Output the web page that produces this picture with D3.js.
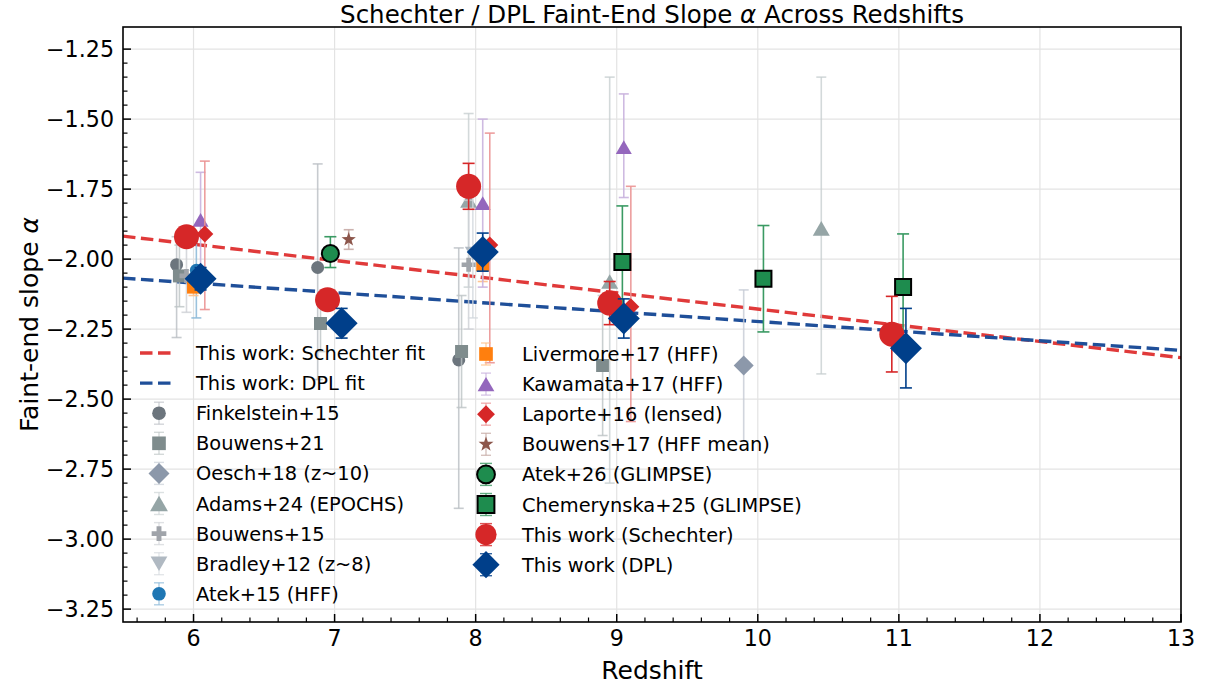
<!DOCTYPE html>
<html><head><meta charset="utf-8">
<script src="https://cdn.jsdelivr.net/npm/d3@7"></script>
<style>body{margin:0;background:#fff} svg{font-family:"DejaVu Sans",sans-serif}</style>
</head><body><svg id="c" width="1206" height="687"></svg>
<script>
// ---------- data ----------
const xTicks=[6,7,8,9,10,11,12,13];
const yTicks=[-1.25,-1.5,-1.75,-2.0,-2.25,-2.5,-2.75,-3.0,-3.25];
const fitZ=[5.5,13];
const schechterFit=[-1.918,-2.352];
const dplFit=[-2.068,-2.326];

const finkZ=[5.88,6.88,7.88], finkA=[-2.02,-2.03,-2.36], finkLo=[0.26,0.40,0.53], finkHi=[0.10,0.37,0.40];
const b21Z=[5.9,6.9,7.9,8.9], b21A=[-2.06,-2.23,-2.33,-2.38], b21Err=[0.11,0.10,0.20,0.25];
const oeschZ=[9.9], oeschA=[-2.38], oeschErr=[0.27];
const adamsZ=[7.95,8.95,10.45], adamsA=[-1.79,-2.08,-1.89], adamsLo=[0.31,0.72,0.52], adamsHi=[0.31,0.73,0.54];
const b15Z=[5.95,7.95], b15A=[-2.06,-2.02], b15Err=[0.13,0.23];
const bradZ=[7.98], bradA=[-1.98], bradErr=[0.23];
const atek15Z=[6.02], atek15A=[-2.04], atek15Lo=[0.17], atek15Hi=[0.13];
const livZ=[6.0,8.05], livA=[-2.10,-2.02], livErr=[0.03,0.06];
const kawZ=[6.05,8.05,9.05], kawA=[-1.86,-1.80,-1.60], kawLo=[0.17,0.30,0.18], kawHi=[0.17,0.30,0.19];
const lapZ=[6.08,8.1,9.1], lapA=[-1.91,-1.95,-2.17], lapLo=[0.27,0.42,0.41], lapHi=[0.26,0.40,0.43];
const b17Z=[7.1], b17A=[-1.93], b17Err=[0.035];
const atek26Z=[6.97], atek26A=[-1.98], atek26Lo=[0.05], atek26Hi=[0.06];
const chemZ=[9.04,10.04,11.03], chemA=[-2.01,-2.07,-2.10], chemErr=[0.20,0.19,0.19];
const schZ=[5.95,6.95,7.95,8.95,10.95], schA=[-1.92,-2.145,-1.74,-2.157,-2.268], schErr=[0.035,0.035,0.082,0.077,0.135];
const dplZ=[6.05,7.05,8.05,9.05,11.05], dplA=[-2.07,-2.229,-1.975,-2.212,-2.318], dplErr=[0.04,0.053,0.068,0.07,0.142];

const legendLabels=["This work: Schechter fit","This work: DPL fit","Finkelstein+15","Bouwens+21","Oesch+18 (z~10)","Adams+24 (EPOCHS)","Bouwens+15","Bradley+12 (z~8)","Atek+15 (HFF)","Livermore+17 (HFF)","Kawamata+17 (HFF)","Laporte+16 (lensed)","Bouwens+17 (HFF mean)","Atek+26 (GLIMPSE)","Chemerynska+25 (GLIMPSE)","This work (Schechter)","This work (DPL)"];

// ---------- series table ----------
const sym=(z,a,lo,hi)=>z.map((d,i)=>({z:d,a:a[i],lo:lo[i],hi:hi[i]}));
const series=[
 {name:legendLabels[2],pts:sym(finkZ,finkA,finkLo,finkHi),shape:"circle",size:13,fill:"#6c757d",bar:"#b9bec3",barOp:0.8,cap:10},
 {name:legendLabels[3],pts:sym(b21Z,b21A,b21Err,b21Err),shape:"square",size:13,fill:"#7f8c8d",bar:"#bcc3c4",barOp:0.8,cap:10},
 {name:legendLabels[4],pts:sym(oeschZ,oeschA,oeschErr,oeschErr),shape:"diamond",size:20,fill:"#8c98aa",bar:"#c5cbd4",barOp:0.8,cap:10},
 {name:legendLabels[5],pts:sym(adamsZ,adamsA,adamsLo,adamsHi),shape:"tri",size:17,fill:"#95a5a6",bar:"#c8d0d1",barOp:0.8,cap:10},
 {name:legendLabels[6],pts:sym(b15Z,b15A,b15Err,b15Err),shape:"plus",size:14,fill:"#a0a4aa",bar:"#cdd0d4",barOp:0.8,cap:10},
 {name:legendLabels[7],pts:sym(bradZ,bradA,bradErr,bradErr),shape:"tridown",size:16,fill:"#b0b9c2",bar:"#d3d8dd",barOp:0.8,cap:10},
 {name:legendLabels[8],pts:sym(atek15Z,atek15A,atek15Lo,atek15Hi),shape:"circle",size:13,fill:"#1f77b4",bar:"#8fbbd9",barOp:0.9,cap:10},
 {name:legendLabels[9],pts:sym(livZ,livA,livErr,livErr),shape:"square",size:13,fill:"#ff7f0e",bar:"#ffbf86",barOp:0.9,cap:10},
 {name:legendLabels[10],pts:sym(kawZ,kawA,kawLo,kawHi),shape:"tri",size:16,fill:"#9467bd",bar:"#c9b3de",barOp:0.9,cap:10},
 {name:legendLabels[11],pts:sym(lapZ,lapA,lapLo,lapHi),shape:"diamond",size:17,fill:"#d62728",bar:"#eb9394",barOp:0.9,cap:10},
 {name:legendLabels[12],pts:sym(b17Z,b17A,b17Err,b17Err),shape:"star",size:15,fill:"#8c564b",bar:"#c6aaa5",barOp:0.9,cap:10},
 {name:legendLabels[13],pts:sym(atek26Z,atek26A,atek26Lo,atek26Hi),shape:"circle",size:17,fill:"#1e8c4e",stroke:"#000",bar:"#3a9a63",barOp:1,cap:12},
 {name:legendLabels[14],pts:sym(chemZ,chemA,chemErr,chemErr),shape:"square",size:16,fill:"#1e8c4e",stroke:"#000",bar:"#3a9a63",barOp:1,cap:12},
 {name:legendLabels[15],pts:sym(schZ,schA,schErr,schErr),shape:"circle",size:25,fill:"#d62728",bar:"#d62728",barOp:1,cap:12},
 {name:legendLabels[16],pts:sym(dplZ,dplA,dplErr,dplErr),shape:"diamond",size:32,fill:"#003f8a",bar:"#003f8a",barOp:1,cap:12}
];

// ---------- geometry ----------
const L=123,R=1181,T=27,B=622;
const x=d3.scaleLinear().domain([5.5,13]).range([L,R]);
const y=d3.scaleLinear().domain([-3.296,-1.171]).range([B,T]);
const svg=d3.select("#c");

function shapePath(t,s){
  const h=s/2;
  switch(t){
    case "circle": return `M${h},0A${h},${h} 0 1,1 ${-h},0A${h},${h} 0 1,1 ${h},0Z`;
    case "square": return `M${-h},${-h}H${h}V${h}H${-h}Z`;
    case "diamond": return `M0,${-h}L${h},0L0,${h}L${-h},0Z`;
    case "tri": {const hh=s*0.43; return `M0,${-hh}L${h},${hh}L${-h},${hh}Z`;}
    case "tridown": {const hh=s*0.43; return `M0,${hh}L${h},${-hh}L${-h},${-hh}Z`;}
    case "plus": {const a=s/6; return `M${-a},${-h}H${a}V${-a}H${h}V${a}H${a}V${h}H${-a}V${a}H${-h}V${-a}H${-a}Z`;}
    case "star": {let p=[];for(let i=0;i<10;i++){const r=i%2?h*0.4:h;const an=-Math.PI/2+i*Math.PI/5;p.push([r*Math.cos(an),r*Math.sin(an)]);}return "M"+p.map(q=>q.join(",")).join("L")+"Z";}
  }
}

// grid
const grid=svg.append("g");
grid.selectAll("line.gx").data(xTicks).join("line").attr("x1",d=>x(d)).attr("x2",d=>x(d)).attr("y1",T).attr("y2",B).attr("stroke","#e3e3e3").attr("stroke-width",1.2);
grid.selectAll("line.gy").data(yTicks).join("line").attr("y1",d=>y(d)).attr("y2",d=>y(d)).attr("x1",L).attr("x2",R).attr("stroke","#e3e3e3").attr("stroke-width",1.2);

svg.append("clipPath").attr("id","pc").append("rect").attr("x",L).attr("y",T).attr("width",R-L).attr("height",B-T);
const plot=svg.append("g").attr("clip-path","url(#pc)");

// fit lines
const line=d3.line().x(d=>x(d[0])).y(d=>y(d[1]));
plot.append("path").attr("d",line(fitZ.map((z,i)=>[z,schechterFit[i]]))).attr("fill","none").attr("stroke","#e03a3a").attr("stroke-width",3.4).attr("stroke-dasharray","12.5,5.5");
plot.append("path").attr("d",line(fitZ.map((z,i)=>[z,dplFit[i]]))).attr("fill","none").attr("stroke","#1f4f99").attr("stroke-width",3.4).attr("stroke-dasharray","12.5,5.5");

// series
series.forEach(s=>{
  const g=plot.append("g");
  s.pts.forEach(p=>{
    const cx=x(p.z), y1=y(p.a+p.hi), y2=y(p.a-p.lo);
    const eb=g.append("g").attr("stroke",s.bar).attr("stroke-opacity",s.barOp).attr("stroke-width",1.6);
    eb.append("line").attr("x1",cx).attr("x2",cx).attr("y1",y1).attr("y2",y2);
    eb.append("line").attr("x1",cx-s.cap/2).attr("x2",cx+s.cap/2).attr("y1",y1).attr("y2",y1);
    eb.append("line").attr("x1",cx-s.cap/2).attr("x2",cx+s.cap/2).attr("y1",y2).attr("y2",y2);
  });
  g.selectAll("path.m").data(s.pts).join("path").attr("d",shapePath(s.shape,s.size))
    .attr("transform",p=>`translate(${x(p.z)},${y(p.a)})`).attr("fill",s.fill)
    .attr("stroke",s.stroke||"none").attr("stroke-width",s.stroke?2:0);
});

// frame & ticks
const ax=svg.append("g");
const minorX=d3.range(5.6,13.0001,0.2).filter(v=>Math.abs(v-Math.round(v))>1e-6);
const minorY=d3.range(-3.25,-1.2,0.05).filter(v=>Math.abs(v*4-Math.round(v*4))>1e-6);
ax.selectAll("line.mx").data(minorX).join("line").attr("x1",d=>x(d)).attr("x2",d=>x(d)).attr("y1",B).attr("y2",B-4.5).attr("stroke","#000").attr("stroke-width",1.2);
ax.selectAll("line.Mx").data(xTicks).join("line").attr("x1",d=>x(d)).attr("x2",d=>x(d)).attr("y1",B).attr("y2",B-8).attr("stroke","#000").attr("stroke-width",1.5);
ax.selectAll("line.my").data(minorY).join("line").attr("y1",d=>y(d)).attr("y2",d=>y(d)).attr("x1",L).attr("x2",L+4.5).attr("stroke","#000").attr("stroke-width",1.2);
ax.selectAll("line.My").data(yTicks).join("line").attr("y1",d=>y(d)).attr("y2",d=>y(d)).attr("x1",L).attr("x2",L+8).attr("stroke","#000").attr("stroke-width",1.5);
ax.append("rect").attr("x",L).attr("y",T).attr("width",R-L).attr("height",B-T).attr("fill","none").attr("stroke","#000").attr("stroke-width",1.6);

ax.selectAll("text.xt").data(xTicks).join("text").attr("x",d=>x(d)).attr("y",B+24).attr("text-anchor","middle").attr("font-size",22.2).text(d=>d);
ax.selectAll("text.yt").data(yTicks).join("text").attr("x",L-9).attr("y",d=>y(d)+8).attr("text-anchor","end").attr("font-size",22.2).text(d=>d3.format(".2f")(d).replace("-","\u2212"));

svg.append("text").attr("x",(L+R)/2).attr("y",679).attr("text-anchor","middle").attr("font-size",25).text("Redshift");
const yl=svg.append("text").attr("transform",`translate(38,${(T+B)/2}) rotate(-90)`).attr("text-anchor","middle").attr("font-size",25);
yl.append("tspan").text("Faint-end slope ");yl.append("tspan").attr("font-style","italic").text("α");
const tt=svg.append("text").attr("x",(L+R)/2).attr("y",23).attr("text-anchor","middle").attr("font-size",24.5);
tt.append("tspan").text("Schechter / DPL Faint-End Slope ");tt.append("tspan").attr("font-style","italic").text("α");tt.append("tspan").text(" Across Redshifts");

// legend
const leg=svg.append("g").attr("font-size",19.4);
const rowH=30.1;
const lineItems=[{c:"#e03a3a"},{c:"#1f4f99"}];
const col1=[...lineItems.map((l,i)=>({type:"line",c:l.c,label:legendLabels[i]})),...series.slice(0,7).map(s=>({type:"pt",s,label:s.name}))];
const col2=series.slice(7).map(s=>({type:"pt",s,label:s.name}));
function drawCol(items,hx,tx,y0){
  items.forEach((it,i)=>{
    const yy=y0+i*rowH;
    if(it.type==="line"){
      leg.append("line").attr("x1",hx-19).attr("x2",hx+17).attr("y1",yy).attr("y2",yy).attr("stroke",it.c).attr("stroke-width",3.4).attr("stroke-dasharray","12.5,5.5");
    } else {
      const s=it.s, ls=s.size>20?s.size*0.85:s.size*1.05;
      const eb=leg.append("g").attr("stroke",s.bar).attr("stroke-opacity",s.barOp*0.8).attr("stroke-width",1.4);
      eb.append("line").attr("x1",hx).attr("x2",hx).attr("y1",yy-11).attr("y2",yy+11);
      eb.append("line").attr("x1",hx-s.cap/2).attr("x2",hx+s.cap/2).attr("y1",yy-11).attr("y2",yy-11);
      eb.append("line").attr("x1",hx-s.cap/2).attr("x2",hx+s.cap/2).attr("y1",yy+11).attr("y2",yy+11);
      leg.append("path").attr("d",shapePath(s.shape,ls)).attr("transform",`translate(${hx},${yy})`).attr("fill",s.fill).attr("stroke",s.stroke||"none").attr("stroke-width",s.stroke?2:0);
    }
    leg.append("text").attr("x",tx).attr("y",yy+7).text(it.label);
  });
}
drawCol(col1,159,196,353);
drawCol(col2,486,522,354);
</script></body></html>
